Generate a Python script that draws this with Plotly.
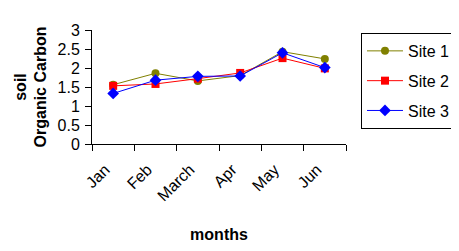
import plotly.graph_objects as go

months = ["Jan", "Feb", "March", "Apr", "May", "Jun"]
site1 = [1.56, 1.86, 1.66, 1.80, 2.43, 2.24]
site2 = [1.53, 1.58, 1.72, 1.87, 2.26, 1.99]
site3 = [1.33, 1.68, 1.78, 1.79, 2.40, 2.01]

font = "Liberation Sans, Arial, sans-serif"
fig = go.Figure()
fig.add_trace(go.Scatter(x=months, y=site1, name="Site 1", mode="lines+markers",
                         legendgroup="a",
                         line=dict(color="#808000", width=1),
                         marker=dict(symbol="circle", size=8, color="#808000")))
fig.add_trace(go.Scatter(x=months, y=site2, name="Site 2", mode="lines+markers",
                         legendgroup="b",
                         line=dict(color="#ff0000", width=1),
                         marker=dict(symbol="square", size=8, color="#ff0000")))
fig.add_trace(go.Scatter(x=months, y=site3, name="Site 3", mode="lines+markers",
                         legendgroup="c",
                         line=dict(color="#0000ff", width=1),
                         marker=dict(symbol="diamond", size=9, color="#0000ff")))

fig.update_layout(
    width=451, height=243,
    margin=dict(l=84, r=113, t=22, b=107, autoexpand=False),
    paper_bgcolor="white", plot_bgcolor="white",
    font=dict(family=font, size=16, color="black"),
    showlegend=True,
    legend=dict(x=1.059, y=0.974, xanchor="left", yanchor="top",
                bordercolor="black", borderwidth=1, bgcolor="white",
                font=dict(size=16), tracegroupgap=6, itemwidth=36),
    xaxis=dict(type="category", range=[-0.5, 5.5], showline=True, linecolor="black",
               linewidth=1, ticks="outside", tickson="boundaries", ticklen=6,
               tickcolor="black", tickangle=-45, showgrid=False, zeroline=False,
               automargin=False, tickfont=dict(size=16),
               ticklabelshift=-8, ticklabelstandoff=9,
               title=dict(text="<b>months</b>", font=dict(size=16), standoff=25)),
    yaxis=dict(range=[0, 3], dtick=0.5, showline=True, linecolor="black", linewidth=1,
               ticks="outside", ticklen=6, tickcolor="black", showgrid=False,
               zeroline=False, automargin=False, tickfont=dict(size=16), ticklabelstandoff=2,
               title=dict(text="<b>soil<br>Organic Carbon</b>", font=dict(size=16),
                          standoff=6)),
)
fig.write_html("out.html")
